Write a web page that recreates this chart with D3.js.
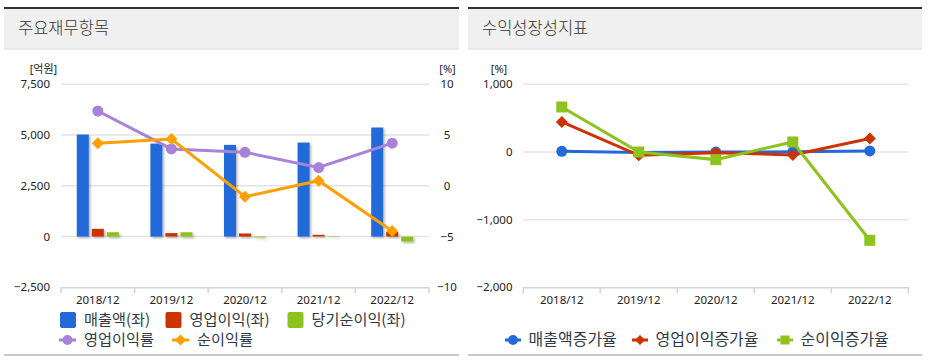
<!DOCTYPE html>
<html><head><meta charset="utf-8">
<script src="https://cdn.jsdelivr.net/npm/d3@7"></script>
<style>
body{margin:0;background:#fff;}
text{font-family:"Noto Sans","Noto Sans CJK KR",sans-serif;}
</style></head>
<body>
<svg id="c" width="931" height="360"></svg>
<script>
const categories = ["2018/12","2019/12","2020/12","2021/12","2022/12"];
// left chart (억원)
const sales = [5025, 4580, 4515, 4630, 5370];
const opIncome = [380, 170, 150, 85, 230];
const netIncome = [215, 212, -48, 23, -245];
// left chart (%)
const opMargin = [7.37, 3.63, 3.3, 1.8, 4.2];
const netMargin = [4.2, 4.6, -1.07, 0.5, -4.45];
const leftTicks = [-2500, 0, 2500, 5000, 7500];
const rightTicks = [-10, -5, 0, 5, 10];
// right chart (%)
const salesGrowth = [10, -9, -1.4, 2.5, 16];
const opGrowth = [443, -49, -12, -43, 198];
const netGrowth = [665, 0, -113, 148, -1305];
const growthTicks = [-2000, -1000, 0, 1000];

const svg = d3.select("#c");
const defs = svg.append("defs");
const f = defs.append("filter").attr("id","sh").attr("x","-30%").attr("y","-30%").attr("width","160%").attr("height","160%");
f.append("feDropShadow").attr("dx",1.5).attr("dy",1.5).attr("stdDeviation",1.2).attr("flood-color","#000").attr("flood-opacity",0.3);

const C = {blue:"#2469d9", red:"#cc3300", green:"#8dc21f", purple:"#a881db", orange:"#ffa000"};
const KR = "'Noto Sans CJK KR',sans-serif";

function panel(x0, x1, title){
  svg.append("rect").attr("x",x0).attr("y",9).attr("width",x1-x0).attr("height",40).attr("fill","#f0f0f0");
  svg.append("rect").attr("x",x0).attr("y",7).attr("width",x1-x0).attr("height",2).attr("fill","#333");
  svg.append("rect").attr("x",x0).attr("y",48.5).attr("width",x1-x0).attr("height",1).attr("fill","#dcdcdc");
  svg.append("text").attr("x",x0+14).attr("y",29.5).attr("dominant-baseline","middle")
    .attr("font-size",16.5).attr("fill","#333").style("font-family",KR).attr("font-weight",300).text(title);
  svg.append("rect").attr("x",x0).attr("y",354).attr("width",x1-x0).attr("height",2).attr("fill","#c8c8c8");
}
panel(4, 459, "주요재무항목");
panel(468, 922, "수익성장성지표");

function marker(g, type, cx, cy, color, s){
  if(type==="circle") g.append("circle").attr("cx",cx).attr("cy",cy).attr("r",s).attr("fill",color);
  else if(type==="diamond") g.append("path").attr("d",`M${cx},${cy-s}L${cx+s},${cy}L${cx},${cy+s}L${cx-s},${cy}Z`).attr("fill",color);
  else g.append("rect").attr("x",cx-s).attr("y",cy-s).attr("width",2*s).attr("height",2*s).attr("fill",color);
}

// ---------- LEFT CHART ----------
{
  const top = 84.3, bot = 287.3;
  const x = d3.scaleBand().domain(categories).range([61, 429]);
  const yL = d3.scaleLinear().domain([-2500, 7500]).range([bot, top]);
  const yR = d3.scaleLinear().domain([-10, 10]).range([bot, top]);
  const g = svg.append("g");
  g.selectAll(".gl").data(leftTicks.filter(d=>d>-2500)).join("line")
    .attr("x1",61).attr("x2",429).attr("y1",d=>yL(d)).attr("y2",d=>yL(d))
    .attr("stroke","#e3e3e3").attr("stroke-width",1.5);
  const xa = g.append("g").attr("transform",`translate(0,${bot})`)
    .call(d3.axisBottom(x).tickSize(0).tickPadding(9));
  xa.select(".domain").attr("stroke","#c9d5e2").attr("stroke-width",1.5);
  xa.selectAll("text").attr("font-size",11.5).attr("fill","#222");
  g.selectAll(".bt").data(d3.range(categories.length+1)).join("line")
    .attr("x1",i=>61+i*x.step()).attr("x2",i=>61+i*x.step()).attr("y1",bot).attr("y2",bot+6)
    .attr("stroke","#c9d5e2").attr("stroke-width",1.5);
  const la = g.append("g").attr("transform","translate(50,0)")
    .call(d3.axisLeft(yL).tickValues(leftTicks).tickSize(0).tickPadding(0).tickFormat(d3.format(",")));
  la.select(".domain").remove();
  la.selectAll("text").attr("font-size",11.5).attr("fill","#222");
  const ra = g.append("g").attr("transform","translate(447,0)")
    .call(d3.axisRight(yR).tickValues(rightTicks).tickSize(0).tickPadding(0));
  ra.select(".domain").remove();
  ra.selectAll("text").attr("font-size",11.5).attr("fill","#222").attr("text-anchor","middle");
  g.append("text").attr("x",43.5).attr("y",70).attr("text-anchor","middle").attr("dominant-baseline","middle").attr("font-size",11).attr("fill","#222").text("[억원]");
  g.append("text").attr("x",447.5).attr("y",70).attr("text-anchor","middle").attr("dominant-baseline","middle").attr("font-size",11).attr("fill","#222").text("[%]");

  const series = [{k:"매출액(좌)",v:sales,c:C.blue},{k:"영업이익(좌)",v:opIncome,c:C.red},{k:"당기순이익(좌)",v:netIncome,c:C.green}];
  const x1 = d3.scaleBand().domain(series.map(s=>s.k)).range([0, x.bandwidth()]).paddingInner(0.2).paddingOuter(1.05);
  series.forEach(s=>{
    g.append("g").attr("filter","url(#sh)").selectAll("rect").data(s.v).join("rect")
      .attr("x",(d,i)=>x(categories[i])+x1(s.k)).attr("width",x1.bandwidth())
      .attr("y",d=>Math.min(yL(d),yL(0))).attr("height",d=>Math.abs(yL(d)-yL(0)))
      .attr("fill",s.c);
  });
  const lines = [{v:opMargin,c:C.purple,m:"circle",s:5.5},{v:netMargin,c:C.orange,m:"diamond",s:6}];
  lines.forEach(L=>{
    const line = d3.line().x((d,i)=>x(categories[i])+x.bandwidth()/2).y(d=>yR(d));
    g.append("path").attr("d",line(L.v)).attr("fill","none").attr("stroke",L.c).attr("stroke-width",3);
    L.v.forEach((d,i)=>marker(g,L.m,x(categories[i])+x.bandwidth()/2,yR(d),L.c,L.s));
  });
  const lg = svg.append("g");
  const sq = [{t:"매출액(좌)",c:C.blue,x:60},{t:"영업이익(좌)",c:C.red,x:165.5},{t:"당기순이익(좌)",c:C.green,x:287.5}];
  sq.forEach(d=>{
    lg.append("rect").attr("x",d.x).attr("y",312).attr("width",16).attr("height",16).attr("rx",2).attr("fill",d.c);
    lg.append("text").attr("x",d.x+24).attr("y",320.5).attr("dominant-baseline","middle").attr("font-size",15.2).attr("fill","#2f3a48").style("font-family",KR).text(d.t);
  });
  const ln = [{t:"영업이익률",c:C.purple,x:59,m:"circle"},{t:"순이익률",c:C.orange,x:172,m:"diamond"}];
  ln.forEach(d=>{
    lg.append("line").attr("x1",d.x).attr("x2",d.x+17).attr("y1",340).attr("y2",340).attr("stroke",d.c).attr("stroke-width",3);
    marker(lg,d.m,d.x+8.5,340,d.c,d.m==="circle"?5:5.5);
    lg.append("text").attr("x",d.x+25).attr("y",340.5).attr("dominant-baseline","middle").attr("font-size",15.2).attr("fill","#2f3a48").style("font-family",KR).text(d.t);
  });
}

// ---------- RIGHT CHART ----------
{
  const top = 84.3, bot = 287.3, X0 = 523.3, X1 = 908.3;
  const x = d3.scaleBand().domain(categories).range([X0, X1]);
  const y = d3.scaleLinear().domain([-2000, 1000]).range([bot, top]);
  const g = svg.append("g");
  g.selectAll(".gl").data(growthTicks.filter(d=>d>-2000)).join("line")
    .attr("x1",X0).attr("x2",X1).attr("y1",d=>y(d)).attr("y2",d=>y(d))
    .attr("stroke","#e3e3e3").attr("stroke-width",1.5);
  const xa = g.append("g").attr("transform",`translate(0,${bot})`)
    .call(d3.axisBottom(x).tickSize(0).tickPadding(9));
  xa.select(".domain").attr("stroke","#c9d5e2").attr("stroke-width",1.5);
  xa.selectAll("text").attr("font-size",11.5).attr("fill","#222");
  g.selectAll(".bt").data(d3.range(categories.length+1)).join("line")
    .attr("x1",i=>X0+i*x.step()).attr("x2",i=>X0+i*x.step()).attr("y1",bot).attr("y2",bot+6)
    .attr("stroke","#c9d5e2").attr("stroke-width",1.5);
  const la = g.append("g").attr("transform","translate(512.5,0)")
    .call(d3.axisLeft(y).tickValues(growthTicks).tickSize(0).tickPadding(0).tickFormat(d3.format(",")));
  la.select(".domain").remove();
  la.selectAll("text").attr("font-size",11.5).attr("fill","#222");
  g.append("text").attr("x",499).attr("y",70).attr("text-anchor","middle").attr("dominant-baseline","middle").attr("font-size",11).attr("fill","#222").text("[%]");

  const lines = [{t:"매출액증가율",v:salesGrowth,c:C.blue,m:"circle",s:5.5,lx:505},
                 {t:"영업이익증가율",v:opGrowth,c:C.red,m:"diamond",s:6,lx:632},
                 {t:"순이익증가율",v:netGrowth,c:C.green,m:"square",s:5.5,lx:777}];
  lines.forEach(L=>{
    const line = d3.line().x((d,i)=>x(categories[i])+x.bandwidth()/2).y(d=>y(d));
    g.append("path").attr("d",line(L.v)).attr("fill","none").attr("stroke",L.c).attr("stroke-width",3);
    L.v.forEach((d,i)=>marker(g,L.m,x(categories[i])+x.bandwidth()/2,y(d),L.c,L.s));
  });
  const lg = svg.append("g");
  lines.forEach(d=>{
    lg.append("line").attr("x1",d.lx).attr("x2",d.lx+16).attr("y1",340).attr("y2",340).attr("stroke",d.c).attr("stroke-width",3);
    marker(lg,d.m,d.lx+8,340,d.c,d.m==="square"?4.5:5);
    lg.append("text").attr("x",d.lx+23.5).attr("y",340.5).attr("dominant-baseline","middle").attr("font-size",16).attr("fill","#2f3a48").style("font-family",KR).text(d.t);
  });
}
</script>
</body></html>
